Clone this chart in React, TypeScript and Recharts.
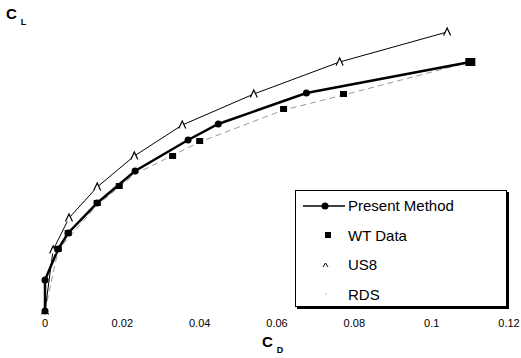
import React from 'react';
import { LineChart, Line, XAxis, YAxis, Legend } from 'recharts';

const cdTicks = [0, 0.02, 0.04, 0.06, 0.08, 0.1, 0.12];

const presentCD = [0, 0, 0.0034, 0.006, 0.0135, 0.0233, 0.037, 0.0448, 0.0676, 0.11];
const presentCL = [0, 0.124, 0.248, 0.312, 0.432, 0.56, 0.684, 0.748, 0.872, 0.996];

const wtCD = [0.0034, 0.006, 0.0135, 0.0192, 0.033, 0.04, 0.0617, 0.0772, 0.11];
const wtCL = [0.248, 0.312, 0.432, 0.5, 0.62, 0.68, 0.808, 0.868, 0.996];

const us8CD = [0, 0.0021, 0.0062, 0.0135, 0.0231, 0.0355, 0.054, 0.0762, 0.104];
const us8CL = [0, 0.244, 0.372, 0.496, 0.62, 0.744, 0.868, 0.996, 1.116];

const rdsCD = [0, 0.0034, 0.0135, 0.0233, 0.04, 0.0617, 0.0772, 0.11];
const rdsCL = [0, 0.244, 0.424, 0.548, 0.676, 0.804, 0.864, 0.996];

const toPoints = (xs: number[], ys: number[]) => xs.map((x, i) => ({ cd: x, cl: ys[i] }));

const presentData = toPoints(presentCD, presentCL);
const wtData = toPoints(wtCD, wtCL);
const us8Data = toPoints(us8CD, us8CL);
const rdsData = toPoints(rdsCD, rdsCL);

const font = 'Liberation Sans, Arial, sans-serif';

const CircleDot = (props: any) => {
  const { cx, cy, index } = props;
  if (cx == null || cy == null) return <g key={index} />;
  return <circle key={index} cx={cx} cy={cy} r={3.5} fill="#000" />;
};

const SquareDot = (props: any) => {
  const { cx, cy, index } = props;
  if (cx == null || cy == null) return <g key={index} />;
  const last = index === wtData.length - 1;
  const w = last ? 10 : 7;
  const h = last ? 8 : 6;
  return <rect key={index} x={cx - w / 2} y={cy - h / 2} width={w} height={h} fill="#000" />;
};

const TriangleDot = (props: any) => {
  const { cx, cy, index } = props;
  if (cx == null || cy == null) return <g key={index} />;
  return (
    <path
      key={index}
      d={`M${cx - 3.5},${cy + 3.5} L${cx},${cy - 4} L${cx + 3.5},${cy + 3.5}`}
      fill="#fff"
      stroke="#000"
      strokeWidth={1.2}
    />
  );
};

const legendRows = [
  { name: 'Present Method', kind: 'line' },
  { name: 'WT Data', kind: 'square' },
  { name: 'US8', kind: 'tri' },
  { name: 'RDS', kind: 'dot' },
];

const renderLegend = () => (
  <div
    style={{
      width: 212,
      height: 117,
      border: '1px solid #000',
      boxShadow: '2px 2px 0 #000',
      background: '#fff',
      boxSizing: 'border-box',
      fontFamily: font,
      fontSize: 15,
      color: '#000',
    }}
  >
    {legendRows.map((r) => (
      <div key={r.name} style={{ height: 29.5, display: 'flex', alignItems: 'center' }}>
        <svg width={52} height={20} style={{ display: 'block' }}>
          {r.kind === 'line' && (
            <>
              <line x1={7} y1={10} x2={49} y2={10} stroke="#000" strokeWidth={1.5} />
              <circle cx={29} cy={10} r={3.5} fill="#000" />
            </>
          )}
          {r.kind === 'square' && <rect x={29} y={7} width={6} height={6} fill="#000" />}
          {r.kind === 'tri' && (
            <path d="M27,12 L29.5,8 L32,12" fill="none" stroke="#000" strokeWidth={1} />
          )}
          {r.kind === 'dot' && <circle cx={30} cy={10} r={0.8} fill="#bbb" />}
        </svg>
        <span>{r.name}</span>
      </div>
    ))}
  </div>
);

export default function App() {
  return (
    <div style={{ position: 'absolute', left: 0, top: 0, width: 521, height: 358, background: '#fff' }}>
      <LineChart width={521} height={358} margin={{ top: 11, right: 12, left: 45, bottom: 17 }}>
        <XAxis
          type="number"
          dataKey="cd"
          domain={[0, 0.12]}
          ticks={cdTicks}
          axisLine={false}
          tickLine={false}
          height={30}
          allowDuplicatedCategory={false}
          tick={{ fontSize: 11, fill: '#000', fontFamily: font }}
          tickFormatter={(v: number) => String(v)}
        />
        <YAxis type="number" dataKey="cl" domain={[0, 1.2]} hide />
        <Legend
          layout="vertical"
          align="center"
          verticalAlign="middle"
          content={renderLegend}
          wrapperStyle={{ left: 295, top: 190, width: 212 }}
        />
        <Line
          data={rdsData}
          dataKey="cl"
          name="RDS"
          stroke="#999"
          strokeWidth={1}
          strokeDasharray="6 4"
          dot={false}
          isAnimationActive={false}
        />
        <Line
          data={us8Data}
          dataKey="cl"
          name="US8"
          stroke="#000"
          strokeWidth={1}
          dot={TriangleDot}
          isAnimationActive={false}
        />
        <Line
          data={presentData}
          dataKey="cl"
          name="Present Method"
          stroke="#000"
          strokeWidth={2.5}
          dot={CircleDot}
          isAnimationActive={false}
        />
        <Line
          data={wtData}
          dataKey="cl"
          name="WT Data"
          stroke="none"
          dot={SquareDot}
          isAnimationActive={false}
        />
      </LineChart>
      <div style={{ position: 'absolute', left: 6, top: 5, fontFamily: font, fontSize: 15, fontWeight: 'bold' }}>
        C<span style={{ fontSize: 9, position: 'relative', left: 4, top: 6 }}>L</span>
      </div>
      <div style={{ position: 'absolute', left: 262, top: 333, fontFamily: font, fontSize: 15, fontWeight: 'bold' }}>
        C<span style={{ fontSize: 9, position: 'relative', left: 4, top: 6 }}>D</span>
      </div>
    </div>
  );
}
